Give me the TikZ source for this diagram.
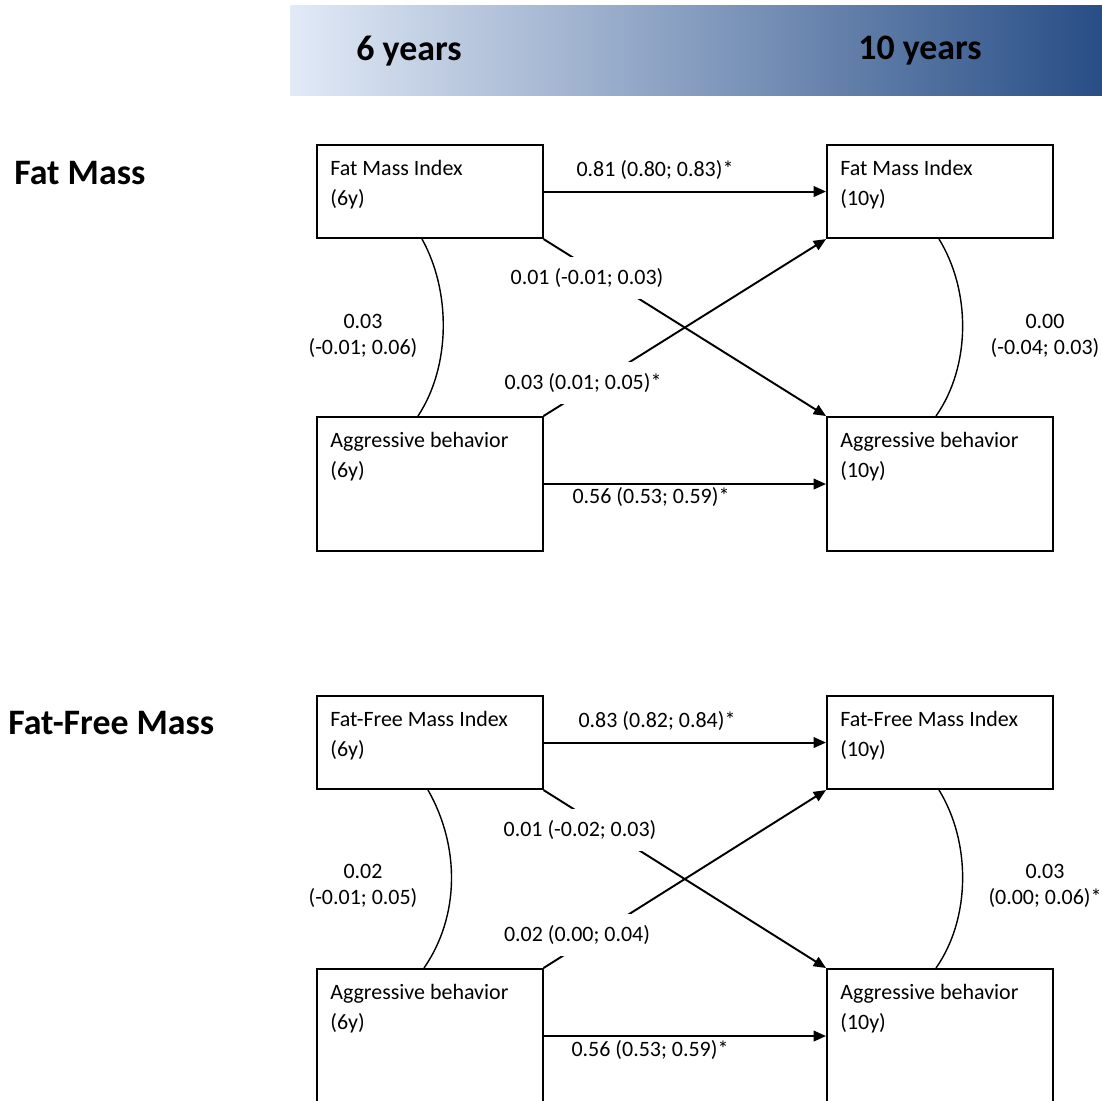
\documentclass[tikz,border=0pt]{standalone}
\usepackage{fontspec}
\setmainfont{Carlito}
\usetikzlibrary{arrows.meta,calc}
\definecolor{bandleft}{RGB}{226,234,247}
\definecolor{bandmid}{RGB}{152,172,207}
\definecolor{bandright}{RGB}{40,78,134}
\begin{document}
\begin{tikzpicture}[x=0.02cm,y=-0.02cm,
  box/.style={draw, line width=0.9pt, inner sep=0pt, anchor=north west},
  fmbox/.style={box, minimum width=4.52cm, minimum height=1.87cm},
  abbox/.style={box, minimum width=4.52cm, minimum height=2.69cm},
  boxtext/.style={anchor=north west, inner sep=0pt, align=left, font=\fontsize{12.5}{17}\selectfont},
  coef/.style={inner sep=1pt, align=center, font=\fontsize{12.5}{15}\selectfont},
  gapcoef/.style={coef, fill=white, inner xsep=3pt, inner ysep=6.5pt},
  arr/.style={-{Triangle[length=7pt,width=6pt]}, line width=1.1pt},
  cov/.style={line width=0.8pt},
  head/.style={anchor=west, inner sep=0pt, font=\fontsize{20.4}{24}\selectfont\bfseries},
  years/.style={inner sep=0pt, font=\fontsize{20.4}{24}\selectfont\bfseries}
]
\useasboundingbox (0,0) rectangle (1102,1100);
\clip (0,0) rectangle (1102,1100);

% header band
\shade[left color=bandleft, middle color=bandmid, right color=bandright] (290,5) rectangle (1102,95);
\node[years] (y6) at (409,51) {6 years};
\node[years] (y10) at (920,51) {10 years};

% section titles
\node[head] (tfm) at (14,173) {Fat Mass};
\node[head] (tffm) at (8,723) {Fat-Free Mass};

% ---------- Fat Mass section ----------
\node[fmbox] (fmi6) at (316,144) {};
\node[fmbox] (fmi10) at (826,144) {};
\node[abbox] (ab6) at (316,416) {};
\node[abbox] (ab10) at (826,416) {};

\node[boxtext] (tfmi6) at ($(fmi6.north west)+(14,16)$) {Fat Mass Index\\(6y)};
\node[boxtext] (tfmi10) at ($(fmi10.north west)+(14,16)$) {Fat Mass Index\\(10y)};
\node[boxtext] (tab6) at ($(ab6.north west)+(14,16)$) {Aggressive behavior\\(6y)};
\node[boxtext] (tab10) at ($(ab10.north west)+(14,16)$) {Aggressive behavior\\(10y)};

\draw[arr] (fmi6.east) -- (fmi10.west);
\draw[arr] (ab6.east) -- (ab10.west);
\draw[arr] (fmi6.south east) -- (ab10.north west);
\draw[arr] (ab6.north east) -- (fmi10.south west);

\draw[cov] ($(fmi6.south west)+(106,0)$) .. controls +(29,52) and +(33,-50) .. ($(ab6.north west)+(102,0)$);
\draw[cov] ($(fmi10.south west)+(113,0)$) .. controls +(32,52) and +(35,-50) .. ($(ab10.north west)+(110,0)$);

\node[coef] (c1) at (655,170) {0.81 (0.80; 0.83)*};
\node[coef] (c2) at (651,497) {0.56 (0.53; 0.59)*};
\node[gapcoef] (c3) at (587,278) {0.01 (-0.01; 0.03)};
\node[gapcoef] (c4) at (583,383) {0.03 (0.01; 0.05)*};
\node[coef] (c5) at (363,336) {0.03\\(-0.01; 0.06)};
\node[coef] (c6) at (1045,336) {0.00\\(-0.04; 0.03)};

% ---------- Fat-Free Mass section ----------
\node[fmbox] (ffmi6) at (316,695) {};
\node[fmbox] (ffmi10) at (826,695) {};
\node[abbox] (abb6) at (316,968) {};
\node[abbox] (abb10) at (826,968) {};

\node[boxtext] (tffmi6) at ($(ffmi6.north west)+(14,16)$) {Fat-Free Mass Index\\(6y)};
\node[boxtext] (tffmi10) at ($(ffmi10.north west)+(14,16)$) {Fat-Free Mass Index\\(10y)};
\node[boxtext] (tabb6) at ($(abb6.north west)+(14,16)$) {Aggressive behavior\\(6y)};
\node[boxtext] (tabb10) at ($(abb10.north west)+(14,16)$) {Aggressive behavior\\(10y)};

\draw[arr] (ffmi6.east) -- (ffmi10.west);
\draw[arr] (abb6.east) -- (abb10.west);
\draw[arr] (ffmi6.south east) -- (abb10.north west);
\draw[arr] (abb6.north east) -- (ffmi10.south west);

\draw[cov] ($(ffmi6.south west)+(112,0)$) .. controls +(32,56) and +(36,-52) .. ($(abb6.north west)+(108,0)$);
\draw[cov] ($(ffmi10.south west)+(113,0)$) .. controls +(32,52) and +(35,-50) .. ($(abb10.north west)+(110,0)$);

\node[coef] (d1) at (657,721) {0.83 (0.82; 0.84)*};
\node[coef] (d2) at (650,1050) {0.56 (0.53; 0.59)*};
\node[gapcoef] (d3) at (580,830) {0.01 (-0.02; 0.03)};
\node[gapcoef] (d4) at (577,935) {0.02 (0.00; 0.04)};
\node[coef] (d5) at (363,886) {0.02\\(-0.01; 0.05)};
\node[coef] (d6) at (1045,886) {0.03\\(0.00; 0.06)*};
\end{tikzpicture}
\end{document}
